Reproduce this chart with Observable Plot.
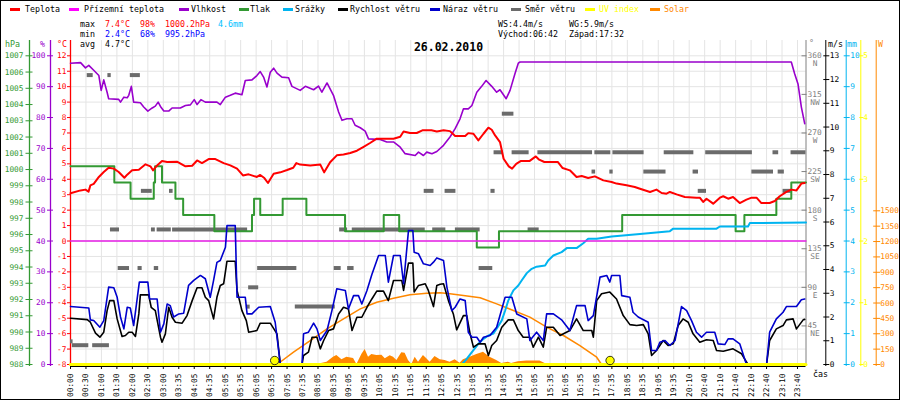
<!DOCTYPE html>
<html><head><meta charset="utf-8">
<script src="https://cdn.jsdelivr.net/npm/d3@7"></script>
<script src="https://cdn.jsdelivr.net/npm/@observablehq/plot@0.6"></script>
<style>
body{margin:0;background:#fff;}
#wrap{position:relative;width:900px;height:400px;overflow:hidden;background:#fff;font-family:"DejaVu Sans Mono",monospace;}
.lbl{position:absolute;white-space:pre;font-size:8.3px;line-height:10px;}
.sw{position:absolute;width:10px;height:3px;}
#frame{position:absolute;left:0;top:0;width:898px;height:398px;border:1px solid #000;pointer-events:none;}
</style></head>
<body><div id="wrap"></div>
<script>
// ---------- data (x = sample index, 6 samples per time label) ----------
const timeLabels = ["00:00","00:30","01:00","01:30","02:00","02:30","03:00","03:35","04:05","04:35","05:05","05:35","06:05","06:35","07:05","07:35","08:05","08:35","09:05","09:35","10:05","10:35","11:05","11:35","12:05","12:35","13:05","13:35","14:05","14:35","15:05","15:35","16:05","16:35","17:05","17:35","18:05","18:35","19:05","19:35","20:10","20:40","21:10","21:40","22:10","22:40","23:10","23:40"];
const samplesPerLabel = 6;
const X_MAX = 285.3;

const temperature = [[0,3.1],[3.9,3.28],[5.8,3.33],[7,3.2],[7.7,3.6],[9,3.7],[11,4.15],[12.9,4.47],[14.8,4.75],[16.8,4.69],[18.7,4.47],[20.9,4.1],[22,4.3],[23.9,4.58],[26.5,4.62],[29.1,4.97],[31,4.84],[32,4.58],[33.6,4.9],[35.5,5.18],[37.5,5.12],[41.3,5.14],[44.6,4.84],[47.2,4.88],[49.1,5.22],[51,5.05],[53.6,5.31],[56.2,5.31],[59.4,5.05],[62,4.9],[64.6,4.69],[66.9,4.25],[69.1,4.32],[72.3,4.15],[73.6,4.28],[75.2,4.08],[76.6,3.76],[78.8,4.36],[81.4,4.45],[84,4.6],[86.4,4.75],[87.6,5.05],[89.1,4.95],[93,4.9],[96.9,4.95],[98.4,4.45],[100.7,5.1],[103.3,5.55],[105.9,5.6],[108.5,5.7],[111.1,5.85],[113.7,6.1],[116.2,6.35],[118.8,6.63],[125.3,6.63],[127.9,6.75],[129.2,7.1],[131.7,7.0],[134.3,7.0],[136.5,7.17],[140,7.17],[142.1,7.1],[144.7,7.17],[147.2,7.12],[149.2,6.8],[153.1,6.8],[154.3,6.99],[156.3,6.95],[158.2,6.52],[160.2,6.95],[162.1,7.34],[163.4,7.21],[164.7,6.84],[166.6,6.41],[168,5.33],[170,4.84],[171.3,4.69],[172.9,5.0],[174.6,5.18],[178,5.18],[180.5,5.48],[181.8,5.27],[183.8,5.12],[189,5.12],[190.9,4.73],[193.7,4.58],[196.3,4.15],[198.3,4.21],[200.8,4.08],[203.4,4.19],[206.7,3.93],[209.9,3.82],[211.8,3.72],[215.7,3.61],[218.9,3.5],[220.9,3.39],[224.8,3.18],[227.3,3.33],[229.3,3.11],[231.2,3.07],[232.5,3.18],[235.1,3.02],[238.3,2.85],[242.8,2.81],[244.1,2.81],[245.4,2.53],[246.7,2.74],[249.3,2.42],[251.9,2.81],[253.2,2.9],[255.1,2.74],[257,2.85],[259.6,2.46],[262.2,2.68],[264.2,2.81],[266.1,2.81],[268,2.46],[271.2,2.46],[273.2,2.59],[275.1,2.9],[277.7,3.18],[279.6,3.33],[281.6,3.28],[283.5,3.72],[284.8,3.76]];

const groundTemp = [[0,0],[X_MAX,0]];

const humidity = [[0,97.6],[3.9,97.8],[5.8,96.1],[7.1,96.9],[9,95.3],[11,93.6],[11.9,88.8],[12.9,92.2],[14.2,88.2],[14.8,86.1],[18.7,85.9],[19.4,85],[20.7,86.6],[22,86.4],[22.6,87.2],[23.6,90.1],[24.5,85],[27.1,84.8],[28.4,83.4],[30,82.1],[31.7,83.1],[32.9,83.7],[34,85],[34.9,83.6],[36.2,82.1],[38.1,82.1],[39.4,83.1],[42.6,83.1],[44.6,83.9],[46.5,84.1],[48,85.8],[49.1,84.2],[50.6,85.8],[52.3,85],[56.8,85],[58.1,84.2],[60.1,86.6],[62,87.2],[63.9,87.9],[66.5,87.4],[67.8,92],[70.4,92.2],[72.3,93.6],[73.6,94.9],[74.9,93.1],[76.2,89.9],[77.5,94.7],[78.8,96],[80.1,94.4],[82,93.1],[84.6,92.9],[85.9,90.1],[89.1,88.8],[91.1,90.1],[94.3,89],[96.2,90.2],[97.5,88.2],[99.5,91.2],[102,87.2],[104,81.8],[105.3,79.1],[107.2,79.6],[109.2,79.6],[110.4,77.5],[112.4,76.7],[114.3,75.6],[115.6,73.1],[120.1,72.9],[122.7,72.1],[125.3,72.1],[127.9,70.4],[129.8,68.3],[133.7,67.7],[135,68.8],[136.9,67.7],[138.2,68.8],[140.2,68.3],[142.1,69],[144.7,71],[147.2,73.7],[149.2,76.4],[151.1,79.6],[152.4,82.8],[154.3,82.8],[155.7,83.9],[157.6,88.2],[159.5,90.1],[161.2,92],[163.4,90.1],[165.3,88.2],[166.6,89],[169,86.1],[170.5,88.8],[172.4,94.2],[173.7,97.6],[174.4,98],[279.6,98],[280.9,94.2],[282.2,90.9],[283.5,83.4],[284.8,78]];

const pressure = [[0,1000.2],[17,999.2],[23.3,998.2],[32.3,999.2],[32.8,1000.2],[35.5,999.2],[40.7,998.2],[43.7,997.2],[55.8,996.2],[70.4,997.2],[71.2,998.2],[73.6,997.2],[82.3,998.2],[91.5,997.2],[106.5,996.2],[121.5,997.2],[127.5,996.2],[157.6,995.2],[166.2,996.2],[214,997.2],[258,996.2],[261.4,997.2],[273.8,998.2],[279.6,999.2],[X_MAX,999.2]];

const rain = [[151.8,0],[153.7,0.18],[155.7,0.4],[158.2,0.67],[160.2,0.83],[162.1,0.94],[164,1.0],[165.3,1.16],[167.3,1.43],[168.6,1.75],[169.8,2.07],[171.8,2.4],[173.7,2.56],[175,2.72],[177,2.96],[178.9,3.1],[180.8,3.17],[184.1,3.21],[185.3,3.37],[187.3,3.53],[190.5,3.64],[192.5,3.77],[196.3,3.77],[198.9,3.93],[200.8,4.07],[204.1,4.07],[209.9,4.15],[220.9,4.23],[232.5,4.32],[233.8,4.4],[250.6,4.4],[251.9,4.47],[262.8,4.47],[263.5,4.58],[X_MAX,4.6]];

const windSpeed = [[0,1.95],[6.5,1.89],[7.7,1.78],[9.7,1.32],[11.4,1.15],[12.9,1.36],[14.2,2.27],[15.2,2.69],[16.8,2.69],[18.1,1.92],[20,1.18],[21.3,1.22],[22.6,1.36],[23.9,1.36],[25.2,1.18],[26.5,2.13],[27.1,2.93],[30.3,2.93],[31.3,2.41],[32.9,2.27],[34.9,1.15],[35.5,0.94],[36.8,1.29],[38.1,2.41],[39.4,1.99],[40.7,1.78],[43.3,1.74],[45.2,2.06],[47.2,2.69],[49.1,3.23],[51,3.23],[52.3,2.83],[53.6,2.69],[55.5,1.92],[56.8,2.83],[58.1,3.33],[59.4,3.4],[60.7,4.35],[63.9,4.35],[64.6,3.12],[66.5,2.27],[68.2,1.85],[69.1,1.36],[72.3,1.43],[73.6,1.74],[77.5,1.74],[80.1,1.29],[81.4,0],[89.8,0],[90.4,0.38],[92.3,0.52],[93.7,1.15],[95.6,1.15],[96.9,0.66],[98.2,1.01],[100.1,1.43],[102,1.5],[104,2.13],[105.9,2.41],[107.8,2.34],[109.2,1.43],[111.1,1.99],[113,1.99],[115,2.41],[116.9,2.76],[118.8,3.09],[121.4,3.09],[123.3,2.69],[125.3,3.54],[128.5,3.54],[129.2,3.12],[131.1,4.27],[132.8,4.27],[133.3,3.05],[135,3.33],[137.6,3.4],[138.8,3.12],[140.8,2.44],[142.1,3.33],[143.4,3.38],[144.7,3.4],[146.6,2.69],[148.5,2.13],[149.8,1.46],[152.4,2.06],[153.7,2.06],[155,1.29],[156.3,0.73],[158.2,0.87],[160.8,0.87],[162.1,0.38],[163.4,0.8],[165.3,1.01],[167.3,1.57],[169.8,1.88],[171.8,1.88],[173.7,1.43],[175.6,1.15],[178.2,1.15],[179.5,0.73],[181.5,1.15],[183.4,0.73],[184.7,1.57],[187.3,1.57],[189.9,1.22],[193.7,1.43],[196.3,1.92],[198.9,1.43],[202.2,1.43],[202.8,1.15],[204.1,2.69],[206,2.98],[209.2,3.05],[211.8,2.76],[214.4,2.06],[217,1.68],[219.6,1.64],[222.2,1.68],[224.1,1.29],[225.4,0.38],[227.3,0.59],[229.9,1.01],[231.8,0.8],[233.8,0.87],[235.7,1.64],[237.6,1.92],[239.6,1.78],[241.5,1.29],[244.1,0.94],[246.7,1.04],[249.3,1.01],[250.6,0.59],[253.2,0.56],[257,0.66],[260.3,0.45],[262.8,0],[270,0],[271.2,1.01],[273.8,1.5],[276.4,1.64],[277.7,1.88],[280.3,1.92],[281.6,1.5],[284.2,1.88],[284.8,1.9]];

const windGust = [[0,2.44],[7.1,2.38],[7.7,1.88],[9,1.85],[11.4,1.57],[12.9,1.85],[14.8,3.26],[16.8,3.23],[18.1,2.83],[19.4,2.0],[20.7,1.5],[22,2.41],[23.2,2.38],[24.5,1.64],[26.7,3.47],[30,3.47],[30.7,2.76],[33.6,2.76],[34.9,1.36],[36.2,1.71],[37.5,2.55],[38.7,2.48],[40,2.0],[42,2.13],[43.9,2.16],[45.8,3.33],[47.8,3.54],[50.4,3.75],[52.3,3.61],[54.2,2.83],[55.5,3.54],[56.8,4.3],[58.1,4.38],[60.1,4.94],[60.7,5.85],[63.9,5.85],[64.6,2.83],[67.8,2.83],[68.5,2.13],[70.4,2.13],[73,2.41],[77.5,2.44],[79.4,1.78],[81.4,0],[89.8,0],[90.4,1.29],[92.3,1.36],[94.3,1.74],[95.6,1.5],[96.9,1.01],[99.5,1.43],[101.4,2.27],[103.3,3.19],[106.6,3.12],[107.8,2.34],[109.8,2.9],[111.7,2.9],[113,2.55],[115,3.12],[116.9,3.79],[119.5,4.59],[122.1,4.59],[123.3,3.47],[125.3,4.59],[127.9,4.59],[129.2,3.4],[131.1,5.64],[132.8,5.64],[133.3,4.73],[135,4.66],[136.9,4.24],[139.5,4.17],[140.8,4.31],[142.1,4.49],[144.7,4.38],[146,3.26],[147.9,2.27],[149.2,2.41],[151.1,2.76],[153.1,2.69],[154.3,1.36],[155.7,1.15],[157.6,1.15],[158.9,0.94],[160.2,1.15],[162.7,1.22],[165.3,1.57],[168.6,2.83],[171.2,2.83],[173.1,2.13],[177,1.92],[178.2,1.01],[180.8,1.36],[183.4,1.01],[184.7,2.13],[187.3,2.13],[190.5,1.88],[193.7,1.43],[196.3,2.48],[199.6,2.48],[200.8,1.85],[202.8,2.06],[205.4,3.68],[208,3.75],[209.2,3.47],[209.9,3.75],[213.1,3.75],[213.8,2.9],[217,2.83],[218.2,2.2],[220.2,2.0],[224.1,1.78],[225.4,0.59],[227.3,0.59],[228.6,0.94],[230.6,1.01],[232.5,0.8],[234.5,1.01],[237,2.44],[239,2.27],[240.9,1.85],[242.8,1.36],[244.8,1.15],[246.7,1.36],[249.9,1.36],[251.2,0.87],[253.8,0.84],[255.1,1.08],[257,1.08],[259.6,0.87],[262.2,0],[270,0],[271.2,1.36],[273.8,1.92],[276.4,2.2],[277.7,2.44],[281.6,2.44],[283.5,2.73],[284.8,2.76]];

// wind direction: [from sample, to sample, degrees]
const windDir = [[0,1,27],[0.7,7.1,22.5],[8.6,15.1,22.5],[6.5,8.8,337.5],[14.5,15.8,337.5],[23.2,27.1,337.5],[15.5,19,157.5],[18.5,22.9,112.5],[26.2,27.8,112.5],[27.5,31.7,202.5],[31.4,32.9,157.5],[32.5,34.2,112.5],[33.6,39.1,157.5],[38.4,39.8,202.5],[39.6,68.7,157.5],[68.2,69.7,67.5],[69.1,73,90],[72.6,87.8,112.5],[87.2,102.7,67.5],[102.3,105,112.5],[104.4,107.5,157.5],[107.5,110,112.5],[109.3,137.6,157.5],[137.2,141,202.5],[140.5,145.6,157.5],[145.3,149.5,202.5],[149.3,158.9,157.5],[158.5,163.8,112.5],[163.1,164.7,202.5],[164.3,167.9,247.5],[167.5,172,292.5],[171.3,177.9,247.5],[177.5,181.8,157.5],[181.3,202.5,247.5],[202.3,203.7,225],[203.4,209.6,247.5],[209.2,210.5,225],[210.4,222.5,247.5],[222.4,231,225],[230.3,241.8,247.5],[241.5,243.6,225],[243.5,246.7,202.5],[246.4,264.5,247.5],[264.3,272.7,225],[272.5,274.7,247.5],[274.5,276.9,225],[276.4,279.6,202.5],[279.5,X_MAX,247.5]];

const uvIndex = [[0,0],[X_MAX,0]];

const solar = [[89.1,0],[96.9,7],[99.5,22],[102,71],[103.3,88],[105.3,46],[107.2,71],[109.8,59],[111.1,0],[113,98],[114.3,146],[115.6,71],[116.9,98],[118.8,88],[120.8,91],[122.1,55],[124,85],[125.3,71],[126.6,39],[128.5,114],[129.8,111],[131.1,39],[132.4,0],[133.7,71],[135,22],[136.9,88],[138.2,55],[139.5,22],[141.4,78],[143.4,46],[145.3,39],[147.2,22],[149.2,46],[151.1,13],[152.4,46],[155,71],[157.6,98],[160.2,120],[162.7,71],[165.3,39],[167.3,10],[169.8,22],[171.1,10],[173.7,26],[177,33],[182.1,33],[184.1,10],[184.7,0]];

const solarClearSky = [[80.1,0],[86.5,120],[93,234],[99.5,348],[105.9,446],[112.4,543],[118.8,608],[125.3,647],[131.7,680],[138.2,696],[143.4,700],[147.2,690],[152.4,673],[158.9,651],[165.3,592],[171.8,527],[178.2,462],[184.7,364],[191.2,283],[197.6,185],[204.1,71],[206,0]];

const sunEvents = [79.2, 209.3]; // sunrise 06:42, sunset 17:32

const dirTicks = [45,90,135,180,225,270,315,360];
const compass = ["NE","E","SE","S","SW","W","NW","N"];

const legendNames = ["Teplota","Přízemní teplota","Vlhkost","Tlak","Srážky","Rychlost větru","Náraz větru","Směr větru","UV index","Solar"];

// ---------- styling ----------
const C = {red:"#ff0000", magenta:"#e61ee6", purple:"#9900cc", green:"#339933", cyan:"#00b4f0", black:"#000000", blue:"#0000cc", gray:"#6b6b6b", grayAxis:"#808080", yellow:"#ffff00", orange:"#ff8800", grid:"#e4e4e4"};
const legendColors = [C.red,"#ff00ff",C.purple,C.green,C.cyan,C.black,C.blue,C.gray,C.yellow,C.orange];
const legendTextColors = ["#000","#000","#000","#000","#000","#000","#000","#000",C.yellow,C.orange];
const legendLayout = [[10,25],[69,84],[179,191],[239,250],[283,295],[338,350],[430,443],[511,525],[585,599],[650,664]];

const wrap = document.getElementById("wrap");
const svgStyle = "position:absolute;left:0;top:0;background:transparent;overflow:visible;font-family:'DejaVu Sans Mono',monospace;font-size:7.8px;";
const Y_TOP = 55.3, Y_BOT = 364;
const X = d => d[0], Y = d => d[1];
const fmt = d => String(d);

function layer(y, marks) {
  const svg = Plot.plot({
    width: 900, height: 400, marginLeft: 70, marginRight: 94.5, marginTop: 40, marginBottom: 34,
    style: svgStyle,
    x: {domain: [0, X_MAX], axis: null},
    y: {range: [Y_BOT, Y_TOP], axis: null, ...y},
    marks
  });
  wrap.appendChild(svg);
}

const xTicks = timeLabels.map((_, k) => k * samplesPerLabel);

// base: grid, temperature axis, time axis
layer({domain: [-8, 12]}, [
  Plot.gridX(xTicks, {stroke: C.grid, strokeOpacity: 1}),
  Plot.gridY(d3.range(-7, 13), {stroke: C.grid, strokeOpacity: 1}),
  Plot.ruleY([-8], {stroke: "#000", dy: 2}),
  Plot.axisX(xTicks, {anchor: "bottom", tickSize: 3, tickPadding: 4, tickRotate: -90, tickFormat: d => timeLabels[d / samplesPerLabel], color: "#000", label: null}),
  Plot.ruleX([0], {stroke: C.red, strokeWidth: 1.3}),
  Plot.axisY(d3.range(-8, 13), {anchor: "left", tickSize: 3, tickPadding: 1, color: C.red, tickFormat: fmt, label: null})
]);

// solar
layer({domain: [0, 1500], range: [Y_BOT, 210.3]}, [
  Plot.areaY(solar, {x: X, y: Y, fill: C.orange}),
  Plot.line(solarClearSky, {x: X, y: Y, stroke: C.orange, strokeWidth: 1.5}),
  Plot.ruleX([X_MAX], {dx: 70.2, stroke: C.orange}),
  Plot.axisY(d3.range(0, 1501, 150), {anchor: "right", dx: 66.7, tickSize: 7, tickPadding: 0.5, color: C.orange, tickFormat: fmt, label: null})
]);

// wind direction
layer({domain: [0, 360]}, [
  Plot.ruleY(windDir, {x1: d => d[0], x2: d => d[1], y: d => d[2], stroke: C.gray, strokeWidth: 4}),
  Plot.ruleX([X_MAX], {stroke: C.grayAxis}),
  Plot.axisY(dirTicks, {anchor: "right", dx: -5, tickSize: 5, tickPadding: 1.5, color: C.grayAxis, tickFormat: fmt, label: null}),
  Plot.text(dirTicks, {frameAnchor: "right", y: d => d, text: (d, i) => compass[i], dx: 9, dy: 8, fill: C.grayAxis, textAnchor: "middle"})
]);

// pressure
layer({domain: [988, 1007]}, [
  Plot.line(pressure, {x: X, y: Y, stroke: C.green, strokeWidth: 2, curve: "step-after"}),
  Plot.ruleX([0], {dx: -41, stroke: C.green, strokeWidth: 1.3}),
  Plot.axisY(d3.range(988, 1008), {anchor: "left", dx: -37.5, tickSize: 7, tickPadding: 2.5, color: C.green, tickFormat: fmt, label: null})
]);

// rain
layer({domain: [0, 10]}, [
  Plot.line(rain, {x: X, y: Y, stroke: C.cyan, strokeWidth: 2}),
  Plot.ruleX([X_MAX], {dx: 40.2, stroke: C.cyan}),
  Plot.axisY(d3.range(0, 11), {anchor: "right", dx: 37.2, tickSize: 6, tickPadding: 1, color: C.cyan, tickFormat: fmt, label: null})
]);

// humidity
layer({domain: [0, 100]}, [
  Plot.line(humidity, {x: X, y: Y, stroke: C.purple, strokeWidth: 1.6}),
  Plot.ruleX([0], {dx: -20, stroke: C.purple, strokeWidth: 1.3}),
  Plot.axisY(d3.range(0, 101, 10), {anchor: "left", dx: -17, tickSize: 6, tickPadding: 2, color: C.purple, tickFormat: fmt, label: null})
]);

// temperature lines
layer({domain: [-8, 12]}, [
  Plot.line(groundTemp, {x: X, y: Y, stroke: C.magenta, strokeWidth: 1.3}),
  Plot.line(temperature, {x: X, y: Y, stroke: C.red, strokeWidth: 2})
]);

// wind speed / gust
layer({domain: [0, 13]}, [
  Plot.line(windSpeed, {x: X, y: Y, stroke: C.black, strokeWidth: 1.6}),
  Plot.line(windGust, {x: X, y: Y, stroke: C.blue, strokeWidth: 1.6}),
  Plot.ruleX([X_MAX], {dx: 19.8, stroke: C.black}),
  Plot.axisY(d3.range(0, 14), {anchor: "right", dx: 16.8, tickSize: 6, tickPadding: 1, color: C.black, tickFormat: fmt, label: null})
]);

// UV + sunrise/sunset
layer({domain: [0, 5]}, [
  Plot.line(uvIndex, {x: X, y: Y, stroke: C.yellow, strokeWidth: 3}),
  Plot.ruleX([X_MAX], {dx: 54.8, stroke: C.yellow}),
  Plot.axisY(d3.range(0, 6), {anchor: "right", dx: 52.8, tickSize: 4, tickPadding: 0.5, color: C.yellow, tickFormat: fmt, label: null}),
  Plot.dot(sunEvents, {x: d => d, y: () => 0, dy: -4, r: 4.2, fill: C.yellow, stroke: "#000", strokeWidth: 0.8})
]);

// ---------- HTML text ----------
function addText(t, x, cy, color, extra = "") {
  const el = document.createElement("div");
  el.className = "lbl";
  el.textContent = t;
  el.style.cssText += `left:${x}px;top:${cy - 5}px;color:${color};${extra}`;
  wrap.appendChild(el);
  return el;
}
legendNames.forEach((name, i) => {
  const sw = document.createElement("div");
  sw.className = "sw";
  sw.style.left = legendLayout[i][0] + "px";
  sw.style.top = "8px";
  sw.style.background = legendColors[i];
  wrap.appendChild(sw);
  addText(name, legendLayout[i][1], 9, legendTextColors[i]);
});

addText("max", 80, 24, "#000"); addText("7.4°C", 105, 24, C.red); addText("98%", 140, 24, C.red); addText("1000.2hPa", 165, 24, C.red); addText("4.6mm", 218, 24, "#00bfff");
addText("min", 80, 34, "#000"); addText("2.4°C", 105, 34, "#0000ff"); addText("68%", 140, 34, "#0000ff"); addText("995.2hPa", 165, 34, "#0000ff");
addText("avg", 80, 44, "#000"); addText("4.7°C", 105, 44, "#000");
addText("WS:4.4m/s", 498, 24, "#000"); addText("WG:5.9m/s", 569, 24, "#000");
addText("Východ:06:42", 498, 34, "#000"); addText("Západ:17:32", 569, 34, "#000");
addText("26.02.2010", 448.5, 47, "#000", "font-weight:bold;font-size:11.5px;line-height:14px;margin-top:-2px;transform:translateX(-50%);");

addText("hPa", 5, 44, C.green); addText("%", 40, 44, C.purple); addText("°C", 57, 44, C.red);
addText("°", 809, 43, C.grayAxis); addText("m/s", 828, 44, "#000"); addText("mm", 847, 44, C.cyan); addText("W", 878, 44, C.orange);
addText("čas", 813, 374, "#000");

const fr = document.createElement("div"); fr.id = "frame"; wrap.appendChild(fr);
</script></body></html>
